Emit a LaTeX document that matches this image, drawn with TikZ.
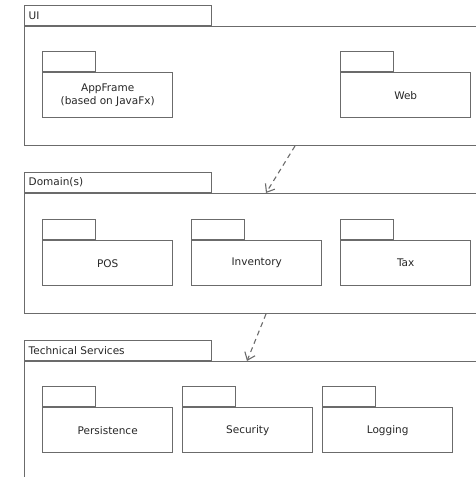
\documentclass[tikz,border=0pt]{standalone}
\usepackage{fontspec}
\setmainfont{DejaVu Sans}
\usetikzlibrary{positioning,arrows.meta}
\definecolor{pkgline}{gray}{0.42}
\tikzstyle{pkg} = [draw=pkgline, line width=1.4pt, rectangle, inner sep=0pt, anchor=north west]
\tikzstyle{pkgtab} = [pkg, minimum width=187pt, minimum height=20pt, anchor=south west,
    text width=179pt, inner xsep=4pt, align=left]
\tikzstyle{subpkg} = [pkg, minimum width=130pt, minimum height=45pt, align=center]
\tikzstyle{subtab} = [pkg, minimum width=53pt, minimum height=20pt, anchor=south west]
\tikzstyle{dep} = [draw=pkgline, line width=1.1pt, dashed, dash pattern=on 5pt off 4pt, ->, >={Straight Barb[length=7pt,width=11pt]}]

\begin{document}
\begin{tikzpicture}[x=1pt, y=-1pt, font=\fontsize{10.5}{12.5}\selectfont, text=black!85]
\useasboundingbox (0,0) rectangle (476,477);
\clip (0,0) rectangle (476,477);
% layers
\node[pkg, minimum width=480pt, minimum height=119pt] (ui) at (24,26) {};
\node[pkgtab] (uitab) at (ui.north west) {UI};
\node[pkg, minimum width=480pt, minimum height=120pt] (domain) at (24,193) {};
\node[pkgtab] (domaintab) at (domain.north west) {Domain(s)};
\node[pkg, minimum width=480pt, minimum height=140pt] (tech) at (24,361) {};
\node[pkgtab] (techtab) at (tech.north west) {Technical Services};
% UI packages
\node[subpkg] (appframe) at (42,72) {AppFrame\\(based on JavaFx)};
\node[subtab] (appframetab) at (appframe.north west) {};
\node[subpkg] (web) at (340,72) {Web};
\node[subtab] (webtab) at (web.north west) {};
% domain packages
\node[subpkg] (pos) at (42,240) {POS};
\node[subtab] (postab) at (pos.north west) {};
\node[subpkg] (inventory) at (191,240) {Inventory};
\node[subtab] (inventorytab) at (inventory.north west) {};
\node[subpkg] (tax) at (340,240) {Tax};
\node[subtab] (taxtab) at (tax.north west) {};
% technical services packages
\node[subpkg] (persistence) at (42,407) {Persistence};
\node[subtab] (persistencetab) at (persistence.north west) {};
\node[subpkg] (security) at (182,407) {Security};
\node[subtab] (securitytab) at (security.north west) {};
\node[subpkg] (logging) at (322,407) {Logging};
\node[subtab] (loggingtab) at (logging.north west) {};
% dependencies
\coordinate (uidep) at (295,146);
\coordinate (domainin) at (266,193);
\coordinate (domaindep) at (266,314);
\coordinate (techin) at (247,361);
\draw[dep] (uidep) -- (domainin);
\draw[dep] (domaindep) -- (techin);
\end{tikzpicture}
\end{document}
